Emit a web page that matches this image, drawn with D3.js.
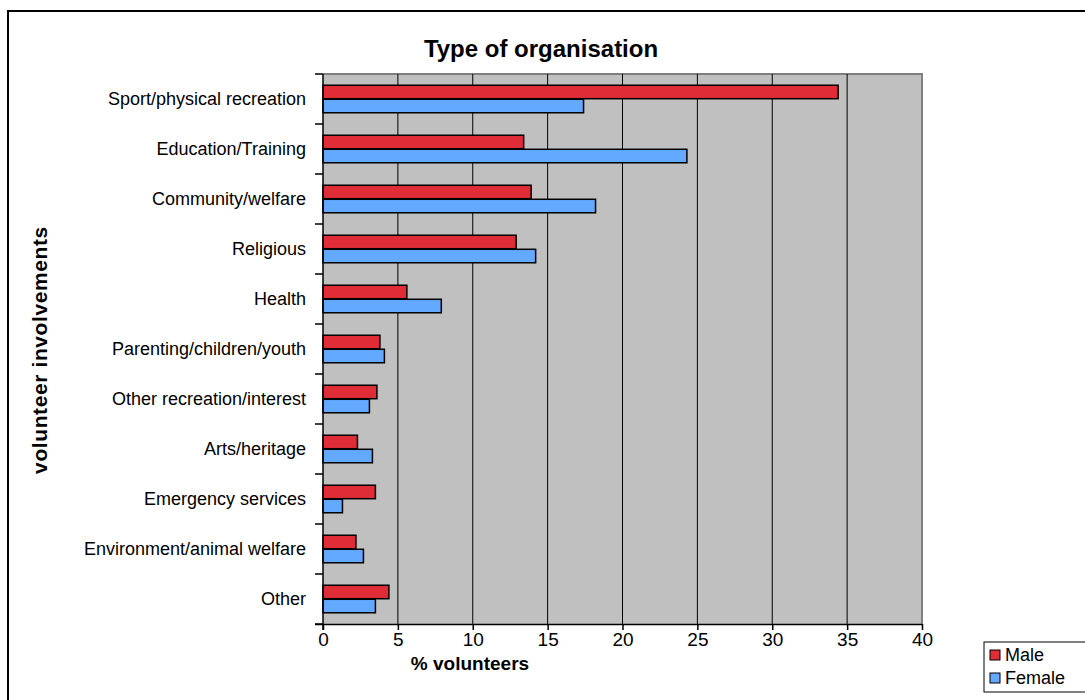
<!DOCTYPE html>
<html>
<head>
<meta charset="utf-8">
<script src="https://cdn.jsdelivr.net/npm/d3@7"></script>
<style>
  html, body { margin: 0; padding: 0; background: #fff; }
  svg { display: block; font-family: "Liberation Sans", Arial, sans-serif; }
</style>
</head>
<body>
<svg id="chart" width="1085" height="700"></svg>
<script>
// Volunteer involvement by type of organisation, per sex (% of volunteers)
const categories = [
  "Sport/physical recreation",
  "Education/Training",
  "Community/welfare",
  "Religious",
  "Health",
  "Parenting/children/youth",
  "Other recreation/interest",
  "Arts/heritage",
  "Emergency services",
  "Environment/animal welfare",
  "Other"
];
const maleValues   = [34.4, 13.4, 13.9, 12.9, 5.6, 3.8, 3.6, 2.3, 3.5, 2.2, 4.4];
const femaleValues = [17.4, 24.3, 18.2, 14.2, 7.9, 4.1, 3.1, 3.3, 1.3, 2.7, 3.5];
const seriesNames  = ["Male", "Female"];
const xTicks       = [0, 5, 10, 15, 20, 25, 30, 35, 40];

const seriesColors = ["#DF2C36", "#62A9FF"];

const svg = d3.select("#chart");

// outer frame
svg.append("rect")
  .attr("x", 8).attr("y", 11)
  .attr("width", 1100).attr("height", 720)
  .attr("fill", "#fff").attr("stroke", "#000").attr("stroke-width", 2);

const plot = { left: 323, right: 922, top: 74, bottom: 624 };

const x = d3.scaleLinear().domain([0, 40]).range([plot.left, plot.right]);
const y = d3.scaleBand().domain(categories).range([plot.top, plot.bottom]);
const inner = d3.scaleBand().domain(seriesNames)
  .range([0, y.bandwidth()]).paddingOuter(0.8).paddingInner(0.04);

// plot background
svg.append("rect")
  .attr("x", plot.left).attr("y", plot.top)
  .attr("width", plot.right - plot.left).attr("height", plot.bottom - plot.top)
  .attr("fill", "#C0C0C0");
svg.append("path")
  .attr("d", `M${plot.left},${plot.top}H${plot.right}V${plot.bottom}`)
  .attr("fill", "none").attr("stroke", "#808080").attr("stroke-width", 2);

// vertical gridlines
svg.append("g").selectAll("line")
  .data(xTicks.filter(t => t > 0 && t < 40))
  .join("line")
  .attr("x1", d => x(d)).attr("x2", d => x(d))
  .attr("y1", plot.top).attr("y2", plot.bottom)
  .attr("stroke", "#000").attr("stroke-width", 1);

// bars
const rows = categories.map((c, i) => ({ cat: c, vals: [maleValues[i], femaleValues[i]] }));
const groups = svg.append("g").selectAll("g")
  .data(rows).join("g")
  .attr("transform", d => `translate(0,${y(d.cat)})`);
groups.selectAll("rect")
  .data(d => d.vals.map((v, k) => ({ v, k })))
  .join("rect")
  .attr("x", x(0))
  .attr("y", d => inner(seriesNames[d.k]))
  .attr("width", d => x(d.v) - x(0))
  .attr("height", inner.bandwidth())
  .attr("fill", d => seriesColors[d.k])
  .attr("stroke", "#000").attr("stroke-width", 1.5);

// x axis
const xAxis = svg.append("g")
  .attr("transform", `translate(0,${plot.bottom})`)
  .call(d3.axisBottom(x).tickValues(xTicks).tickSize(6).tickSizeOuter(0).tickPadding(3));
xAxis.select(".domain").attr("stroke", "#000").attr("stroke-width", 1.5)
  .attr("d", `M${plot.left - 8},0.5H${plot.right}`);
xAxis.selectAll(".tick line").attr("stroke", "#000").attr("stroke-width", 1.5);
xAxis.selectAll(".tick text")
  .attr("font-size", 19).attr("fill", "#000")
  .attr("font-family", "Liberation Sans, Arial, sans-serif");

// y axis: ticks mark band boundaries
const yAxisG = svg.append("g");
yAxisG.append("line")
  .attr("x1", plot.left).attr("x2", plot.left)
  .attr("y1", plot.top).attr("y2", plot.bottom + 6)
  .attr("stroke", "#000").attr("stroke-width", 1.5);
const bounds = categories.map(c => y(c)).concat([plot.bottom]);
yAxisG.selectAll("line.b")
  .data(bounds).join("line").attr("class", "b")
  .attr("x1", plot.left - 8).attr("x2", plot.left)
  .attr("y1", d => d).attr("y2", d => d)
  .attr("stroke", "#000").attr("stroke-width", 1.5);
yAxisG.selectAll("text")
  .data(categories).join("text")
  .attr("x", 306)
  .attr("y", d => y(d) + y.bandwidth() / 2)
  .attr("dy", "0.35em")
  .attr("text-anchor", "end")
  .attr("font-size", 18)
  .attr("fill", "#000")
  .text(d => d);

// titles
svg.append("text")
  .attr("x", 541).attr("y", 57)
  .attr("text-anchor", "middle")
  .attr("font-size", 24).attr("font-weight", "bold")
  .text("Type of organisation");

svg.append("text")
  .attr("x", 470).attr("y", 670)
  .attr("text-anchor", "middle")
  .attr("font-size", 19).attr("font-weight", "bold")
  .text("% volunteers");

svg.append("text")
  .attr("transform", "translate(47,350) rotate(-90)")
  .attr("text-anchor", "middle")
  .attr("font-size", 21).attr("font-weight", "bold")
  .attr("letter-spacing", 0.6)
  .text("volunteer involvements");

// legend
const legend = svg.append("g").attr("transform", "translate(984,642)");
legend.append("rect")
  .attr("x", 0).attr("y", 0).attr("width", 120).attr("height", 50)
  .attr("fill", "#fff").attr("stroke", "#000").attr("stroke-width", 1);
const items = legend.selectAll("g.item")
  .data(seriesNames).join("g").attr("class", "item")
  .attr("transform", (d, i) => `translate(6,${13 + i * 23})`);
items.append("rect")
  .attr("x", 0).attr("y", -5).attr("width", 10).attr("height", 10)
  .attr("fill", (d, i) => seriesColors[i])
  .attr("stroke", "#000").attr("stroke-width", 1);
items.append("text")
  .attr("x", 15).attr("dy", "0.35em")
  .attr("font-size", 18).attr("fill", "#000")
  .text(d => d);
</script>
</body>
</html>
